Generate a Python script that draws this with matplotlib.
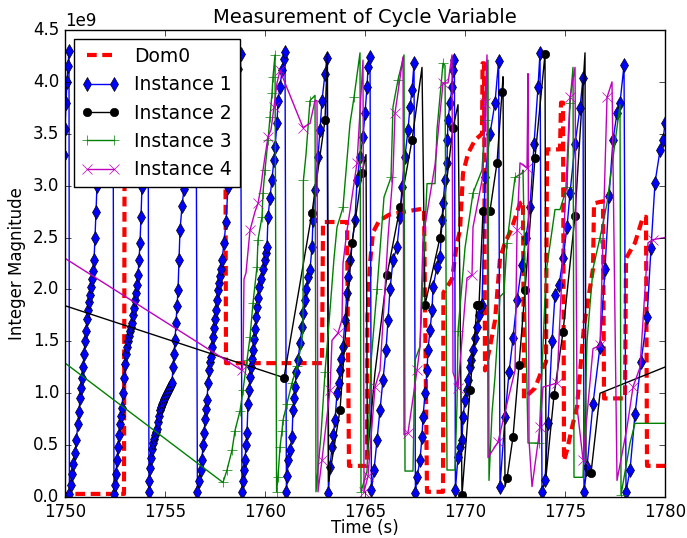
import matplotlib
matplotlib.use('Agg')
import matplotlib.pyplot as plt
import numpy as np

plt.style.use('classic')

# values are in units of 1e9

# Dom0 (red dashed)
dom0_t = [1745.0, 1752.95, 1752.98, 1758.02, 1758.05, 1762.85, 1762.9, 1764.1, 1764.2,
          1765.1, 1765.12, 1765.25, 1765.4, 1765.7, 1766.2, 1767.0, 1767.95, 1768.1,
          1768.9, 1768.92, 1769.35, 1769.6, 1769.75, 1769.9, 1770.15, 1770.5, 1770.85,
          1770.88, 1770.95, 1771.0, 1771.25, 1771.5, 1771.75, 1772.0, 1772.3, 1772.75,
          1772.9, 1772.95, 1773.5, 1773.9, 1774.05, 1774.1, 1774.75, 1774.8, 1774.9,
          1774.95, 1775.1, 1775.35, 1775.6, 1775.75, 1775.95, 1776.4, 1776.45, 1776.9,
          1776.95, 1778.0, 1778.05, 1778.5, 1778.9, 1779.05, 1779.1, 1781.0]
dom0_v = [0.03, 0.03, 3.5, 3.5, 1.29, 1.29, 2.65, 2.65, 0.3,
          0.3, 1.74, 2.25, 2.55, 2.66, 2.72, 2.75, 2.78, 0.05,
          0.05, 1.97, 2.1, 2.45, 2.57, 3.12, 3.31, 3.44, 3.5,
          4.18, 4.18, 1.22, 1.45, 1.7, 2.3, 2.45, 2.57, 2.83,
          2.85, 0.95, 1.05, 1.25, 1.3, 3.35, 3.35, 3.8, 3.8,
          0.35, 0.45, 0.67, 0.87, 1.2, 1.65, 2.2, 2.83, 2.85,
          0.95, 0.95, 2.3, 2.45, 2.7, 2.7, 0.3, 0.3]

# Instance 1 (blue diamonds), one wrap-around ramp after another
ramp_pre_t = [1749.95, 1750.0, 1750.05, 1750.1, 1750.15, 1750.2]
ramp_pre_v = [3.3, 3.55, 3.8, 4.0, 4.15, 4.3]
ramp_a_t = [1750.22, 1750.28, 1750.35, 1750.42, 1750.5, 1750.57, 1750.64, 1750.7, 1750.75,
            1750.8, 1750.85, 1750.9, 1750.95, 1751.0, 1751.05, 1751.1, 1751.15, 1751.2,
            1751.25, 1751.3, 1751.35, 1751.4, 1751.45, 1751.5, 1751.55, 1751.6, 1751.7,
            1751.8, 1751.9, 1752.0, 1752.1, 1752.2, 1752.3, 1752.4]
ramp_a_v = [0.03, 0.12, 0.22, 0.32, 0.42, 0.55, 0.7, 0.82, 0.95,
            1.05, 1.15, 1.25, 1.38, 1.5, 1.6, 1.72, 1.8, 1.88,
            1.95, 2.02, 2.1, 2.18, 2.28, 2.5, 2.75, 3.0, 3.2,
            3.4, 3.55, 3.7, 3.85, 4.0, 4.15, 4.28]
ramp_b_t = [1752.45, 1752.5, 1752.55, 1752.6, 1752.65, 1752.7, 1752.75, 1752.8, 1752.85,
            1752.9, 1752.95, 1753.0, 1753.05, 1753.1, 1753.15, 1753.2, 1753.25, 1753.3,
            1753.35, 1753.4, 1753.45, 1753.5, 1753.55, 1753.6, 1753.65, 1753.7, 1753.75,
            1753.8, 1753.85, 1753.9, 1753.95, 1754.0, 1754.05, 1754.1, 1754.15]
ramp_b_v = [0.03, 0.12, 0.22, 0.36, 0.48, 0.6, 0.7, 0.78, 0.86,
            1.0, 1.15, 1.28, 1.38, 1.45, 1.5, 1.55, 1.6, 1.64,
            1.68, 1.75, 1.82, 1.9, 1.97, 2.04, 2.14, 2.28, 2.45,
            2.7, 2.99, 3.2, 3.45, 3.7, 3.9, 4.1, 4.27]
ramp_c_t = [1754.2, 1754.22, 1754.25, 1754.3, 1754.35, 1754.4, 1754.45, 1754.5, 1754.55,
            1754.6, 1754.65, 1754.7, 1754.75, 1754.8, 1754.85, 1754.9, 1754.95, 1755.0,
            1755.05, 1755.1, 1755.15, 1755.2, 1755.25, 1755.3, 1755.35, 1755.4, 1755.45,
            1755.5, 1755.55, 1755.6, 1755.65, 1755.7, 1755.75, 1755.85, 1755.95, 1756.05,
            1756.15, 1756.25, 1756.35, 1756.45, 1756.55]
ramp_c_v = [0.05, 0.15, 0.28, 0.38, 0.46, 0.52, 0.56, 0.6, 0.63,
            0.66, 0.72, 0.78, 0.84, 0.87, 0.9, 0.92, 0.94, 0.96,
            0.98, 1.0, 1.02, 1.04, 1.06, 1.08, 1.1, 1.25, 1.38,
            1.51, 1.68, 1.84, 1.99, 2.28, 2.57, 2.8, 2.97, 3.2,
            3.45, 3.7, 3.9, 4.1, 4.27]
ramp_d_t = [1756.62, 1756.7, 1756.78, 1756.85, 1756.9, 1756.95, 1757.0, 1757.05, 1757.1,
            1757.15, 1757.2, 1757.25, 1757.3, 1757.35, 1757.4, 1757.45, 1757.5, 1757.55,
            1757.6, 1757.65, 1757.7, 1757.75, 1757.8, 1757.85, 1757.95, 1758.05, 1758.15,
            1758.25, 1758.35, 1758.45, 1758.55, 1758.65, 1758.78]
ramp_d_v = [0.05, 0.15, 0.26, 0.36, 0.5, 0.62, 0.75, 0.85, 0.93,
            1.1, 1.22, 1.3, 1.35, 1.45, 1.54, 1.63, 1.72, 1.8,
            1.9, 1.99, 2.06, 2.13, 2.2, 2.28, 2.45, 2.65, 2.99,
            3.25, 3.5, 3.75, 3.95, 4.12, 4.27]
ramp_e_t = [1758.85, 1758.9, 1758.95, 1759.0, 1759.05, 1759.1, 1759.15, 1759.2, 1759.25,
            1759.3, 1759.35, 1759.4, 1759.45, 1759.5, 1759.55, 1759.6, 1759.65, 1759.7,
            1759.8, 1759.9, 1760.0, 1760.05, 1760.1, 1760.15, 1760.25, 1760.35, 1760.45,
            1760.5, 1760.6, 1760.65, 1760.75, 1760.85, 1760.95, 1761.0]
ramp_e_v = [0.05, 0.15, 0.26, 0.36, 0.5, 0.62, 0.9, 1.03, 1.16,
            1.25, 1.33, 1.42, 1.52, 1.62, 1.73, 1.83, 1.92, 2.02,
            2.1, 2.2, 2.28, 2.35, 2.41, 2.7, 2.88, 3.05, 3.25,
            3.37, 3.6, 3.82, 3.95, 4.11, 4.22, 4.29]
ramp_f_t = [1761.07, 1761.12, 1761.15, 1761.25, 1761.35, 1761.4, 1761.45, 1761.5, 1761.57,
            1761.65, 1761.75, 1761.85, 1761.92, 1762.0, 1762.07, 1762.15, 1762.25, 1762.35,
            1762.4, 1762.5, 1762.65, 1762.75, 1762.85, 1763.0, 1763.1]
ramp_f_v = [0.05, 0.2, 0.36, 0.45, 0.58, 0.84, 0.95, 1.06, 1.2,
            1.32, 1.48, 1.64, 1.77, 1.9, 2.0, 2.12, 2.19, 2.41,
            2.67, 2.96, 3.28, 3.54, 3.82, 4.08, 4.23]
ramp_g_t = [1763.17, 1763.25, 1763.35, 1763.42, 1763.5, 1763.6, 1763.68, 1763.75, 1763.82,
            1763.9, 1764.0, 1764.1, 1764.17, 1764.25, 1764.5, 1764.6, 1764.75, 1764.9,
            1765.0, 1765.1, 1765.15, 1765.25]
ramp_g_v = [0.04, 0.29, 0.48, 0.6, 0.74, 1.0, 1.1, 1.22, 1.33,
            1.45, 1.71, 1.97, 2.12, 2.28, 2.67, 3.05, 3.28, 3.47,
            3.7, 3.95, 4.14, 4.24]
ramp_h_t = [1765.32, 1765.45, 1765.6, 1765.75, 1765.9, 1766.05, 1766.15, 1766.25, 1766.4,
            1766.6, 1766.75, 1766.85, 1767.0, 1767.15, 1767.25, 1767.35, 1767.45]
ramp_h_v = [0.07, 0.26, 0.55, 0.84, 1.13, 1.42, 1.71, 2.0, 2.28,
            2.41, 2.7, 2.99, 3.28, 3.54, 3.76, 3.92, 4.18]
ramp_i_t = [1767.52, 1767.6, 1767.75, 1767.85, 1767.9, 1768.0, 1768.1, 1768.15, 1768.25,
            1768.35, 1768.4, 1768.6, 1768.75, 1768.85, 1768.9, 1769.0, 1769.1, 1769.12,
            1769.15, 1769.25, 1769.35, 1769.4, 1769.47]
ramp_i_v = [0.04, 0.19, 0.36, 0.58, 0.77, 1.0, 1.22, 1.42, 1.61,
            1.8, 2.02, 2.22, 2.31, 2.67, 2.83, 3.05, 3.22, 3.44,
            3.63, 3.8, 3.95, 4.11, 4.21]
ramp_j_t = [1769.52, 1769.65, 1769.75, 1769.85, 1769.9, 1770.0, 1770.08, 1770.15, 1770.25,
            1770.32, 1770.4, 1770.5, 1770.6, 1770.7, 1770.8, 1770.85, 1771.0, 1771.25,
            1771.5, 1771.68]
ramp_j_v = [0.07, 0.39, 0.48, 0.55, 0.77, 0.93, 1.03, 1.13, 1.25,
            1.32, 1.42, 1.53, 1.64, 1.75, 1.83, 1.85, 3.08, 3.5,
            3.8, 4.2]
ramp_k_t = [1771.75, 1772.0, 1772.2, 1772.4, 1772.6, 1772.85, 1773.05, 1773.25, 1773.45,
            1773.65, 1773.75]
ramp_k_v = [0.1, 0.77, 1.2, 1.53, 1.9, 2.24, 2.5, 2.79, 3.4, 3.95, 4.28]
ramp_l_t = [1773.85, 1774.0, 1774.15, 1774.35, 1774.5, 1774.7, 1774.9, 1775.1, 1775.25,
            1775.5, 1775.75, 1775.9]
ramp_l_v = [0.05, 0.16, 0.71, 1.5, 1.95, 2.04, 2.3, 2.6, 2.93, 3.4, 3.75, 4.04]
ramp_m_t = [1775.95, 1776.1, 1776.4, 1776.75, 1777.0, 1777.2, 1777.4, 1777.6, 1777.75,
            1777.95]
ramp_m_v = [0.05, 0.29, 0.9, 1.45, 2.2, 2.9, 3.44, 3.7, 3.8, 4.16]
ramp_n_t = [1778.05, 1778.25, 1778.5, 1778.8, 1779.1, 1779.3, 1779.5, 1779.75, 1779.9,
            1780.0]
ramp_n_v = [0.05, 0.26, 0.8, 1.3, 1.73, 2.4, 3.03, 3.34, 3.44, 3.6]

inst1_t = (ramp_pre_t + ramp_a_t + ramp_b_t + ramp_c_t + ramp_d_t + ramp_e_t + ramp_f_t
           + ramp_g_t + ramp_h_t + ramp_i_t + ramp_j_t + ramp_k_t + ramp_l_t + ramp_m_t
           + ramp_n_t)
inst1_v = (ramp_pre_v + ramp_a_v + ramp_b_v + ramp_c_v + ramp_d_v + ramp_e_v + ramp_f_v
           + ramp_g_v + ramp_h_v + ramp_i_v + ramp_j_v + ramp_k_v + ramp_l_v + ramp_m_v
           + ramp_n_v)

# Instance 2 (black dots); inst2_dot says which samples show a dot
inst2_t = [1745.0, 1760.95, 1761.3, 1761.7, 1762.35, 1763.0, 1763.12, 1763.18, 1763.75,
           1764.35, 1764.85, 1765.05, 1765.12, 1765.5, 1766.1, 1766.75, 1767.35, 1767.85,
           1768.0, 1768.75, 1769.4, 1769.65, 1769.85, 1770.25, 1770.5, 1770.6, 1770.65,
           1770.7, 1770.9, 1771.25, 1771.6, 1771.85, 1771.9, 1772.0, 1772.1, 1772.4,
           1772.7, 1773.0, 1773.5, 1774.0, 1774.05, 1774.45, 1774.9, 1775.5, 1776.0,
           1776.05, 1776.3, 1776.75, 1781.0]
inst2_v = [2.16, 1.15, 1.55, 2.0, 2.74, 3.63, 4.28, 0.15, 0.84,
           2.45, 3.12, 3.3, 0.4, 1.2, 2.14, 2.79, 3.44, 4.14,
           1.85, 2.5, 3.56, 3.78, 0.02, 1.03, 1.6, 1.85, 1.85,
           1.85, 2.76, 2.76, 3.22, 3.9, 4.05, 0.1, 0.18, 0.58,
           1.27, 1.99, 3.27, 4.27, 0.2, 0.98, 1.59, 2.71, 4.28,
           0.2, 0.23, 1.0, 1.33]
inst2_dot = [0, 1, 0, 0, 1, 1, 0, 0, 1,
             1, 1, 0, 0, 0, 1, 1, 1, 0,
             1, 1, 1, 0, 1, 1, 0, 1, 1,
             1, 1, 1, 1, 1, 0, 0, 1, 1,
             1, 1, 1, 1, 0, 1, 1, 1, 0,
             0, 1, 0, 0]

# Instance 3 (green plus)
inst3_t = [1745.0, 1757.9, 1758.1, 1758.35, 1758.5, 1758.75, 1758.9, 1759.1, 1759.25,
           1759.4, 1759.6, 1759.65, 1759.85, 1759.9, 1760.0, 1760.15, 1760.25, 1760.35,
           1760.4, 1760.5, 1760.58, 1760.65, 1760.75, 1760.85, 1760.9, 1761.1, 1761.35,
           1761.6, 1761.8, 1761.9, 1761.92, 1762.05, 1762.25, 1762.5, 1762.55, 1762.8,
           1763.0, 1763.25, 1763.45, 1763.6, 1763.9, 1764.25, 1764.45, 1764.75, 1764.8,
           1765.1, 1765.3, 1765.6, 1765.95, 1766.3, 1766.4, 1766.65, 1766.95, 1767.0,
           1767.4, 1767.5, 1767.75, 1768.1, 1768.5, 1768.6, 1768.9, 1769.0, 1769.1,
           1769.5, 1769.6, 1769.65, 1770.0, 1770.4, 1770.85, 1771.0, 1771.15, 1771.2,
           1771.35, 1771.5, 1771.75, 1771.95, 1772.1, 1772.5, 1772.85, 1772.9, 1773.15,
           1773.7, 1774.05, 1774.5, 1774.75, 1775.1, 1775.25, 1775.4, 1775.45, 1775.9,
           1776.1, 1776.4, 1776.75, 1777.1, 1777.6, 1777.75, 1777.8, 1778.25, 1778.5,
           1781.0]
inst3_v = [2.02, 0.14, 0.26, 0.45, 0.64, 0.83, 1.03, 1.32, 1.54,
           1.87, 2.22, 2.48, 2.7, 2.93, 3.15, 3.44, 3.66, 3.89,
           4.05, 4.26, 0.05, 0.19, 0.48, 0.64, 0.74, 0.9, 1.1,
           1.26, 1.45, 1.6, 3.05, 3.3, 3.82, 3.87, 0.05, 0.6,
           1.2, 1.8, 2.3, 2.6, 2.79, 3.6, 3.85, 4.28, 0.05,
           0.25, 1.3, 2.0, 2.89, 3.08, 3.76, 4.02, 4.26, 0.25,
           0.25, 1.32, 1.45, 3.02, 3.02, 3.54, 4.18, 4.16, 0.26,
           0.26, 0.9, 1.6, 2.4, 2.93, 3.15, 3.63, 4.21, 0.16,
           0.81, 1.16, 1.93, 1.97, 2.45, 3.08, 3.12, 3.15, 0.52,
           0.52, 2.16, 2.77, 2.77, 2.99, 3.8, 4.14, 0.19, 0.19,
           1.5, 2.2, 2.5, 2.83, 3.56, 3.78, 0.02, 0.52, 0.71,
           0.71]
inst3_dot = [0, 1, 1, 1, 1, 1, 1, 1, 1,
             1, 1, 1, 1, 1, 1, 1, 1, 1,
             1, 1, 1, 1, 1, 1, 1, 1, 1,
             1, 0, 0, 1, 0, 1, 0, 0, 0,
             1, 0, 0, 0, 1, 0, 1, 0, 1,
             0, 0, 1, 0, 1, 0, 1, 0, 0,
             0, 0, 0, 0, 0, 0, 1, 0, 0,
             0, 0, 1, 0, 1, 0, 1, 0, 0,
             0, 0, 0, 0, 1, 1, 0, 0, 0,
             1, 0, 0, 0, 1, 1, 0, 0, 0,
             0, 0, 1, 0, 0, 0, 1, 0, 0,
             0]

# Instance 4 (magenta crosses)
inst4_t = [1745.0, 1758.85, 1758.9, 1758.95, 1759.05, 1759.25, 1759.5, 1759.65, 1759.8,
           1759.9, 1760.0, 1760.15, 1760.3, 1760.45, 1760.6, 1760.75, 1761.9, 1762.25,
           1762.5, 1762.6, 1762.65, 1762.85, 1763.25, 1763.35, 1763.65, 1763.85, 1763.9,
           1764.1, 1764.25, 1764.6, 1764.9, 1764.95, 1765.15, 1765.5, 1765.75, 1766.0,
           1766.15, 1766.4, 1766.5, 1766.9, 1766.95, 1767.15, 1767.6, 1767.75, 1767.9,
           1768.5, 1768.9, 1769.15, 1769.35, 1769.4, 1769.65, 1770.1, 1770.35, 1770.4,
           1770.9, 1771.0, 1771.1, 1771.15, 1771.65, 1772.1, 1772.5, 1772.6, 1772.75,
           1773.1, 1773.15, 1773.2, 1773.35, 1773.75, 1773.9, 1774.3, 1774.6, 1775.25,
           1775.5, 1775.6, 1775.9, 1776.4, 1776.75, 1777.1, 1777.35, 1777.6, 1778.1,
           1778.4, 1778.75, 1779.15, 1779.4, 1780.0]
inst4_v = [2.91, 1.22, 1.3, 2.1, 2.16, 2.57, 2.75, 2.83, 2.99,
           3.15, 3.28, 3.47, 3.54, 3.76, 3.99, 4.11, 3.56, 3.6,
           3.82, 3.82, 0.05, 0.36, 1.03, 1.51, 1.58, 1.71, 2.25,
           2.57, 2.76, 3.22, 4.21, 0.05, 0.2, 1.06, 1.22, 2.0,
           2.5, 3.12, 3.7, 4.24, 0.6, 0.62, 1.22, 1.45, 2.5,
           3.2, 3.99, 3.99, 4.26, 1.2, 1.05, 2.11, 2.14, 2.6,
           3.1, 3.8, 4.26, 0.38, 0.53, 0.9, 1.22, 2.57, 3.22,
           3.17, 4.08, 0.55, 0.1, 0.67, 1.06, 1.08, 1.1, 3.85,
           4.14, 0.87, 0.36, 1.43, 1.46, 3.85, 4.0, 0.16, 0.67,
           1.06, 1.25, 2.45, 2.48, 2.5]
inst4_dot = [0, 1, 0, 0, 0, 1, 0, 1, 0,
             0, 0, 1, 0, 1, 0, 1, 1, 0,
             0, 0, 0, 1, 1, 0, 1, 0, 0,
             0, 0, 1, 0, 1, 1, 1, 0, 0,
             0, 0, 1, 0, 0, 1, 1, 0, 0,
             0, 1, 0, 0, 0, 1, 0, 1, 0,
             0, 1, 0, 0, 1, 0, 0, 1, 0,
             1, 0, 0, 0, 1, 0, 0, 1, 1,
             0, 0, 1, 0, 1, 1, 0, 0, 0,
             1, 0, 0, 1, 0]

scale = 1e9

fig = plt.figure(figsize=(6.87, 5.38), dpi=100, facecolor='white')
ax = fig.add_axes([0.0946, 0.0762, 0.8734, 0.868])

ax.plot(dom0_t, np.array(dom0_v) * scale, 'r--', lw=3, dashes=(7, 4), label='Dom0')
ax.plot(inst1_t, np.array(inst1_v) * scale, 'b-d', ms=7, label='Instance 1')
ax.plot(inst2_t, np.array(inst2_v) * scale, 'k-o', ms=6,
        markevery=[bool(d) for d in inst2_dot], label='Instance 2')
ax.plot(inst3_t, np.array(inst3_v) * scale, 'g-+', ms=7,
        markevery=[bool(d) for d in inst3_dot], label='Instance 3')
ax.plot(inst4_t, np.array(inst4_v) * scale, 'm-x', ms=7,
        markevery=[bool(d) for d in inst4_dot], label='Instance 4')

ax.set_xlim(1750, 1780)
ax.set_ylim(0, 4.5e9)
ax.ticklabel_format(axis='x', useOffset=False)
ax.set_title('Measurement of Cycle Variable', fontsize=14)
ax.set_xlabel('Time (s)', labelpad=-1)
ax.set_ylabel('Integer Magnitude')
ax.legend(loc='upper left', fontsize=13.5)

fig.savefig('out.png', dpi=100, facecolor='white')
